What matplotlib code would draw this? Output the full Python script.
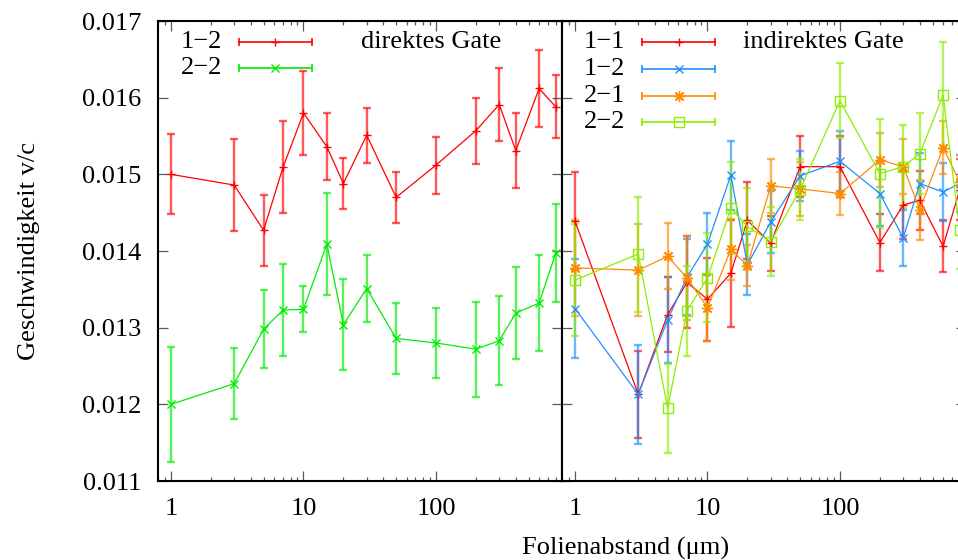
import matplotlib
matplotlib.use("Agg")
import matplotlib.pyplot as plt
from matplotlib.ticker import FixedLocator, LogLocator, NullFormatter

plt.rcParams["font.family"] = ["Liberation Serif", "DejaVu Serif"]
plt.rcParams["mathtext.fontset"] = "stix"

# foil distance (um) shared by all series
dist = [1, 3, 5, 7, 10, 15, 20, 30, 50, 100, 200, 300, 400, 600, 800]

# direct gate
dir_12 = [0.01500, 0.01486, 0.01427, 0.01509, 0.01580, 0.01536, 0.01488, 0.01551,
          0.01470, 0.01512, 0.01557, 0.01591, 0.01531, 0.01612, 0.01588]
dir_12_err = [0.00052, 0.00060, 0.00046, 0.00060, 0.00055, 0.00044, 0.00033, 0.00036,
              0.00033, 0.00037, 0.00043, 0.00048, 0.00049, 0.00050, 0.00041]
dir_22 = [0.01200, 0.01227, 0.01298, 0.01323, 0.01324, 0.01409, 0.01304, 0.01351,
          0.01286, 0.01280, 0.01272, 0.01283, 0.01319, 0.01332, 0.01397]
dir_22_err = [0.00075, 0.00046, 0.00051, 0.00060, 0.00030, 0.00067, 0.00059, 0.00044,
              0.00046, 0.00045, 0.00062, 0.00058, 0.00060, 0.00063, 0.00064]

# indirect gate
ind_11 = [0.01439, 0.01213, 0.01317, 0.01359, 0.01337, 0.01371, 0.01440, 0.01410,
          0.01510, 0.01510, 0.01411, 0.01460, 0.01466, 0.01406, 0.01480]
ind_11_err = [0.00064, 0.00057, 0.00049, 0.00060, 0.00054, 0.00070, 0.00050, 0.00036,
              0.00040, 0.00040, 0.00037, 0.00044, 0.00039, 0.00034, 0.00040]
ind_12 = [0.01325, 0.01213, 0.01310, 0.01366, 0.01409, 0.01499, 0.01382, 0.01438,
          0.01498, 0.01517, 0.01475, 0.01417, 0.01488, 0.01477, 0.01488]
ind_12_err = [0.00064, 0.00065, 0.00056, 0.00050, 0.00040, 0.00045, 0.00040, 0.00040,
              0.00033, 0.00039, 0.00042, 0.00037, 0.00040, 0.00038, 0.00037]
ind_21 = [0.01378, 0.01375, 0.01393, 0.01365, 0.01326, 0.01402, 0.01381, 0.01485,
          0.01481, 0.01475, 0.01519, 0.01510, 0.01454, 0.01535, 0.01490]
ind_21_err = [0.00063, 0.00060, 0.00043, 0.00055, 0.00043, 0.00040, 0.00027, 0.00035,
              0.00035, 0.00028, 0.00035, 0.00036, 0.00039, 0.00034, 0.00035]
ind_22 = [0.01362, 0.01396, 0.01195, 0.01322, 0.01365, 0.01456, 0.01432, 0.01412,
          0.01480, 0.01596, 0.01501, 0.01510, 0.01527, 0.01603, 0.01427]
ind_22_err = [0.00073, 0.00075, 0.00058, 0.00059, 0.00058, 0.00060, 0.00050, 0.00045,
              0.00040, 0.00049, 0.00071, 0.00054, 0.00053, 0.00069, 0.00050]

RED = "#ff0000"
GREEN = "#00ee00"
BLUE = "#1e90ff"
ORANGE = "#ff8c00"
LIME = "#8cee00"

ASTERISK = (8, 2, 0)
MARKERS = {
    "plus": dict(marker="+", ms=6, mew=1.0),
    "cross": dict(marker="x", ms=6, mew=1.0),
    "star": dict(marker=ASTERISK, ms=8, mew=1.0),
    "square": dict(marker="s", ms=7, mew=1.0, mfc="none"),
}

FS = 19
XLIM = (0.798, 893)
YLIM = (0.011, 0.017)

fig = plt.figure(figsize=(9.58, 5.6), dpi=100)
ax_l = fig.add_axes([158 / 958, 79 / 560, 404 / 958, 460 / 560])
ax_r = fig.add_axes([562 / 958, 79 / 560, 404 / 958, 460 / 560])


def draw_series(ax, y, err, color, style):
    ax.errorbar(dist, y, yerr=err, fmt="none", ecolor=color, elinewidth=1.7,
                capsize=3, capthick=1.7, alpha=0.65, zorder=2)
    ax.plot(dist, y, color=color, lw=0.9, mec=color, zorder=3, **MARKERS[style])


def key_entry(ax, row_y, label, color, style, x_text, x0, x1):
    ax.text(x_text, row_y, label, transform=ax.transAxes, ha="right",
            va="center", fontsize=FS)
    xm = (x0 + x1) / 2
    ax.plot([x0, x1], [row_y, row_y], color=color, lw=1.2,
            transform=ax.transAxes, clip_on=False)
    ax.plot([x0, x1], [row_y, row_y], ls="none", marker="|", ms=6, mew=1.2,
            color=color, transform=ax.transAxes, clip_on=False)
    ax.plot([xm], [row_y], ls="none", color=color, mec=color,
            transform=ax.transAxes, clip_on=False, **MARKERS[style])


def style_axes(ax, show_ylabels):
    ax.set_xscale("log")
    ax.set_xlim(*XLIM)
    ax.set_ylim(*YLIM)
    ax.xaxis.set_major_locator(FixedLocator([1, 10, 100]))
    ax.xaxis.set_minor_locator(LogLocator(base=10, subs=range(2, 10)))
    ax.xaxis.set_minor_formatter(NullFormatter())
    ax.set_xticklabels(["1", "10", "100"])
    ax.set_yticks([0.011, 0.012, 0.013, 0.014, 0.015, 0.016, 0.017])
    if show_ylabels:
        ax.set_yticklabels(["0.011", "0.012", "0.013", "0.014", "0.015",
                            "0.016", "0.017"])
    else:
        ax.set_yticklabels([])
    ax.tick_params(which="both", direction="in", top=True, right=True,
                   color="0.35", labelsize=FS)
    ax.tick_params(which="major", length=7, width=0.9)
    ax.tick_params(which="minor", length=3, width=0.9)
    ax.tick_params(axis="x", pad=12)
    ax.tick_params(axis="y", pad=12)
    for sp in ax.spines.values():
        sp.set_linewidth(1.5)


# direct gate panel
draw_series(ax_l, dir_12, dir_12_err, RED, "plus")
draw_series(ax_l, dir_22, dir_22_err, GREEN, "cross")
style_axes(ax_l, True)
key_entry(ax_l, 0.954, "1\u22122", RED, "plus", 0.158, 0.2005, 0.381)
key_entry(ax_l, 0.898, "2\u22122", GREEN, "cross", 0.158, 0.2005, 0.381)
ax_l.text(0.502, 0.954, "direktes Gate", transform=ax_l.transAxes,
          ha="left", va="center", fontsize=FS)
ax_l.set_ylabel("Geschwindigkeit v/c", fontsize=FS, labelpad=30)

# indirect gate panel
draw_series(ax_r, ind_11, ind_11_err, RED, "plus")
draw_series(ax_r, ind_12, ind_12_err, BLUE, "cross")
draw_series(ax_r, ind_21, ind_21_err, ORANGE, "star")
draw_series(ax_r, ind_22, ind_22_err, LIME, "square")
style_axes(ax_r, False)
rows = [0.954, 0.896, 0.837, 0.780]
for row_y, label, color, style in zip(
        rows, ["1\u22121", "1\u22122", "2\u22121", "2\u22122"],
        [RED, BLUE, ORANGE, LIME], ["plus", "cross", "star", "square"]):
    key_entry(ax_r, row_y, label, color, style, 0.156, 0.198, 0.379)
ax_r.text(0.448, 0.954, "indirektes Gate", transform=ax_r.transAxes,
          ha="left", va="center", fontsize=FS)

fig.text(626 / 958, 1 - 548 / 560, "Folienabstand (\u03bcm)", ha="center",
         va="center", fontsize=FS)

fig.savefig("out.png", dpi=100)
